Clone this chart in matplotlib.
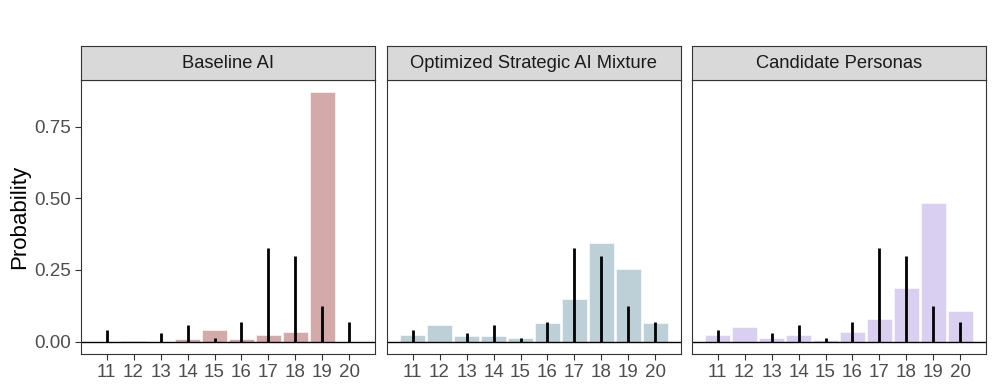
import matplotlib.pyplot as plt
from matplotlib.patches import Rectangle

plt.rcParams['font.family'] = ['Liberation Sans', 'DejaVu Sans']

#   the data
scores = [11, 12, 13, 14, 15, 16, 17, 18, 19, 20]
human = [0.041, 0.0, 0.031, 0.059, 0.013, 0.068, 0.327, 0.300, 0.124, 0.068]
baseline = [0.0, 0.003, 0.0, 0.010, 0.040, 0.010, 0.023, 0.034, 0.870, 0.0]
optimized = [0.024, 0.057, 0.019, 0.021, 0.013, 0.064, 0.147, 0.343, 0.252, 0.066]
personas = [0.023, 0.050, 0.012, 0.022, 0.007, 0.034, 0.078, 0.186, 0.485, 0.107]

panel_titles = ['Baseline AI', 'Optimized Strategic AI Mixture', 'Candidate Personas']
panel_values = [baseline, optimized, personas]
panel_colors = ['#d3a9aa', '#bdd0d8', '#d9cff0']

fig = plt.figure(figsize=[9.97, 3.92], dpi=100)

lefts = [81, 387, 692]
width = 294
for i in range(3):
    ax = fig.add_axes([lefts[i]/997, 1 - 354/392, width/997, 274/392])
    ax.bar(scores, panel_values[i], width=0.9, color=panel_colors[i],
           edgecolor='white', linewidth=0.4, zorder=1)
    ax.axhline(0, color='black', linewidth=1.0, zorder=2)
    ax.vlines(scores, 0, human, color='black', linewidth=2.0, zorder=3)

    ax.set_xlim(10.055, 20.945)
    ax.set_ylim(-0.0435, 0.9135)
    ax.set_xticks(scores)
    ax.set_xticklabels([str(s) for s in scores])
    ax.set_yticks([0, 0.25, 0.5, 0.75])
    ax.tick_params(labelsize=13.5, labelcolor='#4d4d4d', color='#333333',
                   length=4, width=0.8, pad=3)
    if i == 0:
        ax.set_yticklabels(['0.00', '0.25', '0.50', '0.75'])
        ax.set_ylabel('Probability', fontsize=16, color='black', labelpad=3)
    else:
        ax.set_yticklabels([])
        ax.tick_params(axis='y', length=0)
    for s in ax.spines.values():
        s.set_color('#333333')
        s.set_linewidth(0.8)

    #   facet strip
    strip = fig.add_axes([lefts[i]/997, 1 - 80/392, width/997, 34/392])
    strip.add_patch(Rectangle((0, 0), 1, 1, transform=strip.transAxes,
                              facecolor='#d9d9d9', edgecolor='none'))
    strip.set_xticks([])
    strip.set_yticks([])
    for s in strip.spines.values():
        s.set_color('#333333')
        s.set_linewidth(0.8)
    strip.text(0.5, 0.5, panel_titles[i], ha='center', va='center',
               fontsize=13.2, color='#1a1a1a', transform=strip.transAxes)

plt.savefig('out.png', dpi=100)
